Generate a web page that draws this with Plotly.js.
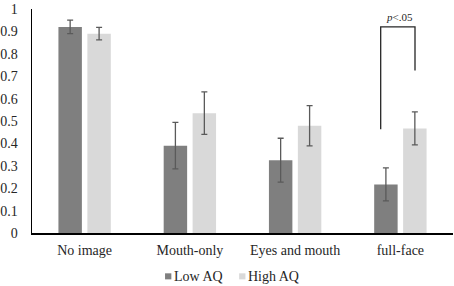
<!DOCTYPE html>
<html>
<head>
<meta charset="utf-8">
<script src="https://cdn.plot.ly/plotly-3.0.1.min.js"></script>
<style>html,body{margin:0;padding:0;background:#fff}#chart{width:454px;height:286px}</style>
</head>
<body>
<div id="chart"></div>
<script>
var categories = ["No image", "Mouth-only", "Eyes and mouth", "full-face"];
var seriesNames = ["Low AQ", "High AQ"];
var seriesColors = ["#7f7f7f", "#d9d9d9"];
var lowAQ = [0.92, 0.39, 0.325, 0.217];
var lowAQErr = [0.03, 0.104, 0.098, 0.074];
var highAQ = [0.89, 0.535, 0.479, 0.467];
var highAQErr = [0.028, 0.095, 0.09, 0.074];
var yTicks = [0, 0.1, 0.2, 0.3, 0.4, 0.5, 0.6, 0.7, 0.8, 0.9, 1];
var yTickLabels = ["0", "0.1", "0.2", "0.3", "0.4", "0.5", "0.6", "0.7", "0.8", "0.9", "1"];
var sigLabel = "<i>p</i>&lt;.05";

var font = "Liberation Serif, Times New Roman, serif";
var textColor = "#262626";
var errStyle = {type: "data", visible: true, color: "#5a5a5a", thickness: 1.3, width: 3};

var traces = [
  {type: "bar", name: seriesNames[0], x: categories, y: lowAQ,
   marker: {color: seriesColors[0]},
   error_y: Object.assign({array: lowAQErr}, errStyle), hoverinfo: "skip"},
  {type: "bar", name: seriesNames[1], x: categories, y: highAQ,
   marker: {color: seriesColors[1]},
   error_y: Object.assign({array: highAQErr}, errStyle), hoverinfo: "skip"}
];

// legend drawn as small squares + text (paper coords)
var legendSquares = [[0.316, 0.331], [0.492, 0.507]];
var legendTextX = [0.3349, 0.5107];

var shapes = [
  {type: "path", xref: "x", yref: "y",
   path: "M 2.813,0.463 L 2.813,0.92 L 3.139,0.92 L 3.139,0.725",
   line: {color: textColor, width: 1.3}}
];
var annotations = [
  {xref: "x", yref: "y", x: 2.99, y: 0.965, text: sigLabel, showarrow: false,
   font: {family: font, size: 11, color: textColor}}
];
for (var i = 0; i < seriesNames.length; i++) {
  shapes.push({type: "rect", xref: "paper", yref: "paper",
    x0: legendSquares[i][0], x1: legendSquares[i][1], y0: -0.207, y1: -0.180,
    fillcolor: seriesColors[i], line: {width: 0}});
  annotations.push({xref: "paper", yref: "paper", x: legendTextX[i], y: -0.196,
    xanchor: "left", yanchor: "middle", text: seriesNames[i], showarrow: false,
    borderpad: 0, font: {family: font, size: 14, color: textColor}});
}

var layout = {
  width: 454, height: 286,
  margin: {l: 32, r: 1, t: 9, b: 53, autoexpand: false},
  paper_bgcolor: "#fff", plot_bgcolor: "#fff",
  barmode: "group", bargap: 0.45, bargroupgap: 0.19,
  font: {family: font, size: 14, color: textColor},
  showlegend: false,
  xaxis: {type: "category", showline: true, linecolor: "#000", linewidth: 1.5,
          ticks: "", showgrid: false, zeroline: false, ticklabelstandoff: 4,
          tickfont: {family: font, size: 14, color: textColor}},
  yaxis: {range: [0, 1], tickvals: yTicks, ticktext: yTickLabels,
          showline: true, linecolor: "#000", linewidth: 1.5, ticks: "",
          showgrid: false, zeroline: false, ticklabelstandoff: 10,
          tickfont: {family: font, size: 14, color: textColor}},
  shapes: shapes,
  annotations: annotations
};

Plotly.newPlot("chart", traces, layout, {displayModeBar: false, staticPlot: true});
</script>
</body>
</html>
